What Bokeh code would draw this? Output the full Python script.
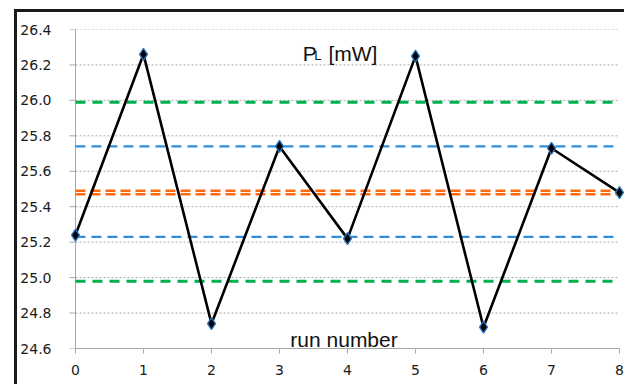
from bokeh.plotting import figure
from bokeh.models import Range1d, FixedTicker, PrintfTickFormatter
from bokeh.core.properties import value
from bokeh.embed import file_html
from bokeh.resources import INLINE

# measured laser power per run
runs = [0, 1, 2, 3, 4, 5, 6, 7, 8]
power_mw = [25.24, 26.26, 24.74, 25.74, 25.22, 26.25, 24.72, 25.73, 25.48]

# statistical reference levels
mean_levels = [25.49, 25.47]          # orange
sigma_levels = [25.74, 25.23]         # blue
two_sigma_levels = [25.99, 24.98]     # green

x_ticks = [0, 1, 2, 3, 4, 5, 6, 7, 8]
y_ticks = [24.6, 24.8, 25.0, 25.2, 25.4, 25.6, 25.8, 26.0, 26.2, 26.4]

px_per_run = 68.125
x_pad = 7 / px_per_run

p = figure(width=610, height=375, output_backend="svg", toolbar_location=None,
           x_range=Range1d(-x_pad, 8 + x_pad), y_range=Range1d(24.6, 26.4),
           min_border_left=50, min_border_right=1, min_border_top=17, min_border_bottom=39)
p.margin = (9, 0, 0, 14)
p.styles = {"border-left": "3px solid #1a1a1a", "border-top": "3px solid #1a1a1a"}
p.outline_line_color = None
p.background_fill_color = "white"
p.border_fill_color = "white"
p.xgrid.visible = False
p.ygrid.visible = False

axis_color = "#a6a6a6"
tick_font = "DejaVu Sans"

xa = p.xaxis[0]
xa.ticker = FixedTicker(ticks=x_ticks)
xa.bounds = (0, 8)
xa.axis_line_color = axis_color
xa.major_tick_line_color = axis_color
xa.major_tick_out = 5
xa.major_tick_in = 0
xa.minor_tick_line_color = None
xa.major_label_text_font = tick_font
xa.major_label_text_font_size = "14px"
xa.major_label_text_color = "#1a1a1a"
xa.major_label_standoff = 11

# value axis: labels from the axis, line and ticks drawn at run 0
ya = p.yaxis[0]
ya.ticker = FixedTicker(ticks=y_ticks)
ya.formatter = PrintfTickFormatter(format="%.1f")
ya.axis_line_color = None
ya.major_tick_line_color = None
ya.minor_tick_line_color = None
ya.major_label_text_font = tick_font
ya.major_label_text_font_size = "14px"
ya.major_label_text_color = "#1a1a1a"
ya.major_label_standoff = 11

p.segment(x0=[0], x1=[0], y0=[y_ticks[0]], y1=[y_ticks[-1]],
          line_color=axis_color, line_width=1)
tick_len = 6 / px_per_run
p.segment(x0=[-tick_len] * len(y_ticks), x1=[0] * len(y_ticks), y0=y_ticks, y1=y_ticks,
          line_color=axis_color, line_width=1)

# dotted horizontal gridlines
grid_y = y_ticks[1:]
p.segment(x0=[0] * len(grid_y), x1=[8] * len(grid_y), y0=grid_y, y1=grid_y,
          line_color="#a8a8a8", line_width=1, line_dash="2 2")

# reference levels
for levels, color, width, dash in [
    (two_sigma_levels, "#00b050", 3, "10 7"),
    (sigma_levels, "#2f8fdc", 2.2, "10 6"),
    (mean_levels, "#ff6a10", 2.5, "10 5"),
]:
    p.segment(x0=[0] * len(levels), x1=[8] * len(levels), y0=levels, y1=levels,
              line_color=color, line_width=width, line_dash=dash)

# measurement series
p.line(runs, power_mw, line_color="black", line_width=2.6)
p.scatter(runs, power_mw, marker="diamond", size=12, fill_color="black",
          line_color="#2a78c0", line_width=1.3)

# in-plot annotations
label_font = value("Liberation Sans")
p.text(x=[3.342], y=[26.265], text=["P"], text_font=label_font,
       text_font_size="21px", text_color="#111111", text_baseline="alphabetic")
p.text(x=[3.51], y=[26.256], text=["L"], text_font=label_font,
       text_font_size="13px", text_color="#111111", text_baseline="alphabetic")
p.text(x=[3.72], y=[26.265], text=[" [mW]"], text_font=label_font,
       text_font_size="21px", text_color="#111111", text_baseline="alphabetic")
p.text(x=[3.949], y=[24.652], text=["run number"], text_font=label_font,
       text_font_size="21px", text_color="#111111", text_baseline="alphabetic",
       text_align="center")

open("out.html", "w").write(file_html(p, INLINE))
